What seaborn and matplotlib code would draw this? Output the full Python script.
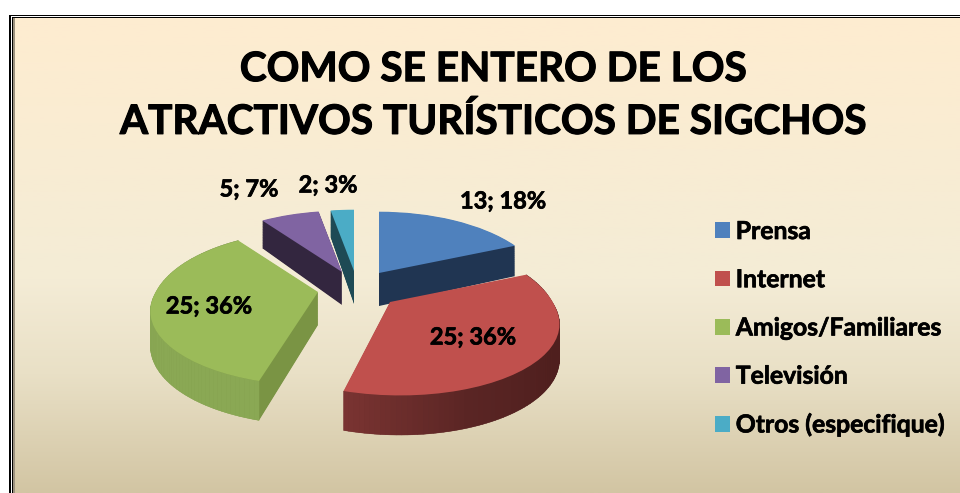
import numpy as np
import seaborn as sns
import matplotlib.pyplot as plt
import matplotlib.patheffects as pe
from matplotlib.transforms import Transform
from matplotlib.colors import LinearSegmentedColormap
from matplotlib.patches import Rectangle

title = "COMO SE ENTERO DE LOS\nATRACTIVOS TURÍSTICOS DE SIGCHOS"
categories = ["Prensa", "Internet", "Amigos/Familiares", "Televisión", "Otros (especifique)"]
counts = [13, 25, 25, 5, 2]
percents = [18, 36, 36, 7, 3]

colors = ["#4f81bd", "#c0504d", "#9bbb59", "#8064a2", "#4bacc6"]
side_colors = ["#203552", "#63302e", "#7a9444", "#33263f", "#1e4a55"]
apex = [(379, 273), (390, 302), (318, 292), (342, 272), (354, 271)]
skew = [0, -10, 3, 0, 0]
draw_order = [0, 3, 4, 2, 1]
label_pos = [(503, 201), (473, 337), (209, 306), (249, 189), (328, 185)]

SX, SY_BACK, SY_FRONT, PERSP, DEPTH = 162, 76, 71, 0.24, 33


class Tilt(Transform):
    # fake 3d: unit pie -> pixels, far side smaller
    input_dims = output_dims = 2

    def __init__(self, center, z=0.0, skew=0.0):
        super().__init__()
        self.center = center
        self.z = z
        self.skew = skew

    def transform_non_affine(self, xy):
        xy = np.asarray(xy, dtype=float)
        x, y = xy[:, 0], xy[:, 1]
        s = 1 / (1 + PERSP * y)
        sy = np.where(y > 0, SY_BACK, SY_FRONT)
        px = self.center[0] + x * SX * s + self.skew * np.minimum(y, 0)
        py = self.center[1] - y * sy * s + self.z * DEPTH * (1 - 0.2 * y)
        return np.column_stack([px, py])


sns.set_style("white")
plt.rcParams['font.family'] = ['Lato', 'DejaVu Sans']

fig = plt.figure(figsize=(9.6, 4.93), dpi=100)
ax = fig.add_axes([0, 0, 1, 1])

layers = np.linspace(1, 0, 46)
first = None
for n, z in enumerate(layers):
    wedges, _ = ax.pie(counts, startangle=90, counterclock=False, radius=1, center=(0, 0))
    for i, w in enumerate(wedges):
        w.set_transform(Tilt(apex[i], z, skew[i]) + ax.transData)
        w.set_facecolor(colors[i] if z == 0 else side_colors[i])
        w.set_edgecolor("none")
        w.set_linewidth(0)
        w.set_zorder(2 + draw_order.index(i) * 2 + (0.9 if z == 0 else 0.5 * n / len(layers)))
    first = wedges

# shaded outer wall of the two big slices
shades = {
    1: LinearSegmentedColormap.from_list("r", ["#4f1f1e", "#4f1f1e", "#5a2524", "#7b3432"]),
    2: LinearSegmentedColormap.from_list("g", ["#6f8a40", "#87a552", "#8aa854", "#8aa854"]),
}
starts = np.cumsum([0] + counts[:-1]) / sum(counts) * 360
sweeps = np.array(counts) / sum(counts) * 360
for i, cmap in shades.items():
    ang = np.linspace(starts[i], starts[i] + sweeps[i], 90)
    for j in range(len(ang) - 1):
        a = np.radians(ang[j:j + 2])
        x, y = np.sin(a), np.cos(a)
        quad = np.array([[x[0], y[0]], [x[1], y[1]]])
        top = Tilt(apex[i], 0, skew[i]).transform_non_affine(quad)
        bot = Tilt(apex[i], 1, skew[i]).transform_non_affine(quad)
        frac = (ang[j] - starts[i]) / sweeps[i]
        if i == 1:
            c = cmap(max(0, (frac - 0.18) / 0.82))
        else:
            c = cmap(1 - frac)
        ax.fill([top[0, 0], top[1, 0], bot[1, 0], bot[0, 0]],
                [top[0, 1], top[1, 1], bot[1, 1], bot[0, 1]],
                color=c, lw=0.3, zorder=2 + draw_order.index(i) * 2 + 0.7)

heavy = [pe.withStroke(linewidth=0.5, foreground="black")]
for i, (x, y) in enumerate(label_pos):
    ax.text(x, y, "%d; %d%%" % (counts[i], percents[i]), ha="center", va="center",
            fontsize=17, fontweight="bold", color="black", zorder=20, path_effects=heavy)

ax.set_xlim(0, 960)
ax.set_ylim(493, 0)
ax.set_aspect("auto")
ax.axis("off")

# background gradient + frame
grad = LinearSegmentedColormap.from_list(
    "bg", [(0, "#feecd0"), (0.55, "#f4ecd6"), (0.75, "#e9e0c6"), (1, "#d2c5a3")])
ax.imshow(np.linspace(0, 1, 256)[:, None], cmap=grad, extent=(15, 960, 493, 18),
          aspect="auto", zorder=0)
ax.set_xlim(0, 960)
ax.set_ylim(493, 0)
ax.add_patch(Rectangle((9, 15), 951, 478, fc="black", ec="none", zorder=0.1))
ax.add_patch(Rectangle((11, 16), 949, 477, fc="white", ec="none", zorder=0.2))
ax.add_patch(Rectangle((12, 17), 948, 476, fc="black", ec="none", zorder=0.3))
ax.add_patch(Rectangle((13, 18), 947, 475, fc="#9c927f", ec="none", zorder=0.4))
ax.images[0].set_zorder(0.5)

ax.text(493, 96, title, ha="center", va="center", fontsize=29.2, fontweight="bold",
        color="black", linespacing=1.5, zorder=20,
        path_effects=[pe.withStroke(linewidth=0.8, foreground="black")])

leg = ax.legend(first, categories, loc="upper left", bbox_to_anchor=(715 / 960, 1 - 220 / 493),
                frameon=False, prop={"size": 17.8, "weight": "bold"}, labelcolor="black",
                handlelength=0.6, handleheight=0.6, handletextpad=0.24,
                labelspacing=1.02, borderpad=0, borderaxespad=0)
leg.set_zorder(20)
for t in leg.get_texts():
    t.set_path_effects(heavy)

plt.savefig("out.png", dpi=100)
